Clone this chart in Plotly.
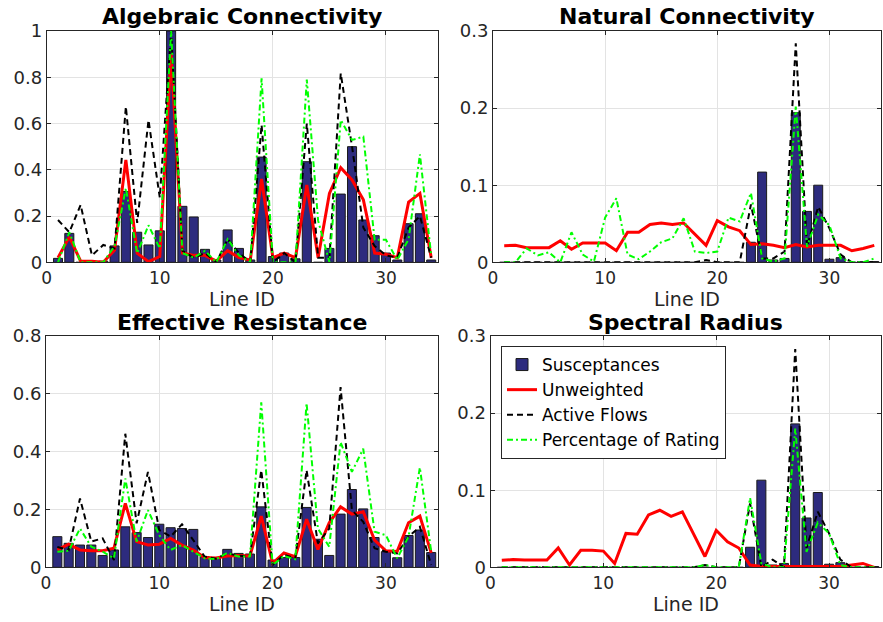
import plotly.graph_objects as go

# Line IDs 1..34
line_id = list(range(1, 35))

# ---- Algebraic Connectivity ----
ac_susceptances = [0.017, 0.125, 0.0, 0.0, 0.005, 0.071, 0.306, 0.13, 0.075, 0.136,
                   1.0, 0.242, 0.196, 0.056, 0.01, 0.14, 0.06, 0.01, 0.455, 0.025,
                   0.04, 0.015, 0.435, 0.0, 0.06, 0.295, 0.5, 0.183, 0.115, 0.04,
                   0.01, 0.167, 0.21, 0.01]
ac_unweighted = [0.02, 0.11, 0.005, 0.005, 0.0, 0.053, 0.443, 0.039, 0.003, 0.025,
                 0.9, 0.04, 0.03, 0.03, 0.005, 0.05, 0.02, 0.01, 0.36, 0.02,
                 0.04, 0.02, 0.334, 0.02, 0.298, 0.409, 0.356, 0.27, 0.04, 0.035,
                 0.02, 0.26, 0.298, 0.02]
ac_active = [0.183, 0.13, 0.248, 0.03, 0.075, 0.06, 0.673, 0.17, 0.615, 0.28,
             1.0, 0.05, 0.02, 0.04, 0.0, 0.1, 0.04, 0.0, 0.594, 0.0,
             0.04, 0.0, 0.6, 0.02, 0.02, 0.817, 0.5, 0.15, 0.07, 0.03,
             0.02, 0.15, 0.2, 0.02]
ac_rating = [0.0, 0.13, 0.0, 0.0, 0.0, 0.07, 0.32, 0.039, 0.16, 0.06,
             1.0, 0.04, 0.02, 0.05, 0.0, 0.1, 0.03, 0.0, 0.795, 0.0,
             0.0, 0.0, 0.79, 0.18, 0.0, 0.615, 0.529, 0.543, 0.097, 0.097,
             0.01, 0.1, 0.467, 0.03]

# ---- Natural Connectivity ----
nc_susceptances = [0.0] * 22 + [0.026, 0.117, 0.003, 0.005, 0.194, 0.066, 0.1, 0.004,
                                0.006, 0.0, 0.0, 0.001]
nc_unweighted = [0.0216, 0.022, 0.019, 0.019, 0.019, 0.028, 0.017, 0.025, 0.025, 0.025,
                 0.015, 0.039, 0.039, 0.049, 0.051, 0.049, 0.051, 0.036, 0.022, 0.054,
                 0.046, 0.041, 0.023, 0.024, 0.022, 0.019, 0.023, 0.02, 0.022, 0.022,
                 0.022, 0.015, 0.018, 0.022]
nc_active = [0.0] * 18 + [0.003, 0.0, 0.0, 0.0, 0.075, 0.005, 0.005, 0.014, 0.284, 0.02,
                          0.072, 0.044, 0.01, 0.0, 0.0, 0.0]
nc_rating = [0.0, 0.0, 0.018, 0.009, 0.013, 0.0, 0.039, 0.01, 0.001, 0.058,
             0.083, 0.01, 0.004, 0.014, 0.026, 0.031, 0.057, 0.014, 0.012, 0.014,
             0.058, 0.053, 0.09, 0.005, 0.001, 0.005, 0.202, 0.02, 0.062, 0.048,
             0.005, 0.0, 0.0, 0.005]

# ---- Effective Resistance ----
er_susceptances = [0.106, 0.083, 0.077, 0.077, 0.041, 0.06, 0.14, 0.12, 0.103, 0.149,
                   0.137, 0.134, 0.131, 0.037, 0.031, 0.062, 0.048, 0.046, 0.209, 0.025,
                   0.034, 0.034, 0.207, 0.097, 0.041, 0.184, 0.269, 0.202, 0.103, 0.054,
                   0.033, 0.11, 0.129, 0.051]
er_unweighted = [0.06, 0.08, 0.06, 0.057, 0.057, 0.066, 0.221, 0.089, 0.077, 0.08,
                 0.1, 0.077, 0.06, 0.034, 0.032, 0.039, 0.041, 0.039, 0.177, 0.014,
                 0.05, 0.037, 0.166, 0.062, 0.154, 0.209, 0.184, 0.192, 0.094, 0.057,
                 0.055, 0.154, 0.177, 0.05]
er_active = [0.07, 0.06, 0.238, 0.089, 0.1, 0.025, 0.462, 0.152, 0.33, 0.129,
             0.106, 0.149, 0.094, 0.037, 0.03, 0.048, 0.04, 0.037, 0.336, 0.008,
             0.043, 0.031, 0.336, 0.083, 0.134, 0.623, 0.198, 0.157, 0.066, 0.054,
             0.048, 0.106, 0.14, 0.008]
er_rating = [0.054, 0.057, 0.134, 0.071, 0.054, 0.031, 0.307, 0.089, 0.198, 0.111,
             0.06, 0.077, 0.054, 0.031, 0.028, 0.05, 0.037, 0.037, 0.571, 0.008,
             0.039, 0.028, 0.568, 0.134, 0.071, 0.433, 0.33, 0.41, 0.123, 0.111,
             0.031, 0.106, 0.345, 0.054]

# ---- Spectral Radius ----
sr_susceptances = [0.0] * 22 + [0.026, 0.113, 0.003, 0.005, 0.186, 0.064, 0.097, 0.004,
                                0.006, 0.0, 0.0, 0.001]
sr_unweighted = [0.009, 0.01, 0.0095, 0.0095, 0.0095, 0.025, 0.003, 0.022, 0.022, 0.021,
                 0.005, 0.044, 0.043, 0.068, 0.074, 0.066, 0.072, 0.043, 0.014, 0.048,
                 0.033, 0.025, 0.003, 0.001, 0.001, 0.001, 0.001, 0.001, 0.001, 0.001,
                 0.001, 0.003, 0.005, 0.0]
sr_active = [0.0] * 18 + [0.003, 0.0, 0.0, 0.0, 0.083, 0.0, 0.01, 0.0, 0.283, 0.025,
                          0.072, 0.044, 0.01, 0.0, 0.0, 0.0]
sr_rating = [0.0] * 18 + [0.003, 0.0, 0.0, 0.0, 0.09, 0.005, 0.0, 0.0, 0.18, 0.02,
                          0.058, 0.044, 0.003, 0.0, 0.0, 0.0]

panels = [
    ("Algebraic Connectivity", ac_susceptances, ac_unweighted, ac_active, ac_rating,
     [0, 1], [0, 0.2, 0.4, 0.6, 0.8, 1]),
    ("Natural Connectivity", nc_susceptances, nc_unweighted, nc_active, nc_rating,
     [0, 0.3], [0, 0.1, 0.2, 0.3]),
    ("Effective Resistance", er_susceptances, er_unweighted, er_active, er_rating,
     [0, 0.8], [0, 0.2, 0.4, 0.6, 0.8]),
    ("Spectral Radius", sr_susceptances, sr_unweighted, sr_active, sr_rating,
     [0, 0.3], [0, 0.1, 0.2, 0.3]),
]

W, H = 883, 622
# plot areas in pixels: (left, right, top, bottom)
boxes = [
    (46.7, 438.0, 31.0, 262.3),
    (493.0, 881.0, 31.0, 262.3),
    (46.0, 438.0, 336.0, 567.3),
    (490.5, 881.0, 336.0, 567.3),
]

BAR = "#2d2b7e"
FONT = "DejaVu Sans"
TICK_COLOR = "#262626"

fig = go.Figure()
layout = {}
annotations = []

for i, (title, sus, unw, act, rat, yr, yt) in enumerate(panels):
    n = i + 1
    xa = "x" if n == 1 else f"x{n}"
    ya = "y" if n == 1 else f"y{n}"
    show = (n == 4)
    fig.add_trace(go.Bar(x=line_id, y=sus, name="Susceptances", width=0.8,
                         marker=dict(color=BAR, line=dict(color="#1a1a1a", width=1)),
                         xaxis=xa, yaxis=ya, showlegend=show, legendrank=1))
    fig.add_trace(go.Scatter(x=line_id, y=unw, name="Unweighted", mode="lines",
                             line=dict(color="#ff0000", width=3),
                             xaxis=xa, yaxis=ya, showlegend=show, legendrank=2))
    fig.add_trace(go.Scatter(x=line_id, y=act, name="Active Flows", mode="lines",
                             line=dict(color="#000000", width=2, dash="6px,4px"),
                             xaxis=xa, yaxis=ya, showlegend=show, legendrank=3))
    fig.add_trace(go.Scatter(x=line_id, y=rat, name="Percentage of Rating", mode="lines",
                             line=dict(color="#00ff00", width=2, dash="6px,3px,2px,3px"),
                             xaxis=xa, yaxis=ya, showlegend=show, legendrank=4))

    l, r, t, b = boxes[i]
    xkey = "xaxis" if n == 1 else f"xaxis{n}"
    ykey = "yaxis" if n == 1 else f"yaxis{n}"
    layout[xkey] = dict(
        domain=[l / W, r / W], anchor=ya, range=[0, 34.6], automargin=False,
        tickvals=[0, 10, 20, 30], ticks="inside", ticklen=4, tickcolor="#262626",
        showgrid=True, gridcolor="#e3e3e3", gridwidth=1, zeroline=False,
        showline=True, linecolor="#262626", linewidth=1, mirror="ticks",
        tickfont=dict(family=FONT, size=17, color=TICK_COLOR),
    )
    layout[ykey] = dict(
        domain=[1 - b / H, 1 - t / H], anchor=xa, range=yr, automargin=False,
        tickvals=yt, ticks="inside", ticklen=4, tickcolor="#262626",
        showgrid=True, gridcolor="#e3e3e3", gridwidth=1, zeroline=False,
        showline=True, linecolor="#262626", linewidth=1, mirror="ticks",
        tickfont=dict(family=FONT, size=18, color=TICK_COLOR),
    )
    cx = (l + r) / 2 / W
    annotations.append(dict(text=f"<b>{title}</b>", x=cx, y=1 - (t - 14) / H,
                            xref="paper", yref="paper", showarrow=False,
                            xanchor="center", yanchor="middle",
                            font=dict(family=FONT, size=22, color="#000000")))
    annotations.append(dict(text="Line ID", x=cx, y=1 - (b + 37) / H,
                            xref="paper", yref="paper", showarrow=False,
                            xanchor="center", yanchor="middle",
                            font=dict(family=FONT, size=19, color="#262626")))

fig.update_layout(
    width=W, height=H,
    margin=dict(l=0, r=0, t=0, b=0, autoexpand=False),
    paper_bgcolor="white", plot_bgcolor="white",
    barmode="overlay",
    annotations=annotations,
    legend=dict(x=501 / W, y=1 - 346 / H, xanchor="left", yanchor="top",
                bgcolor="white", bordercolor="#262626", borderwidth=1,
                font=dict(family=FONT, size=17, color="#000000"),
                tracegroupgap=0, itemwidth=30),
    **layout,
)

fig.write_html("out.html")
